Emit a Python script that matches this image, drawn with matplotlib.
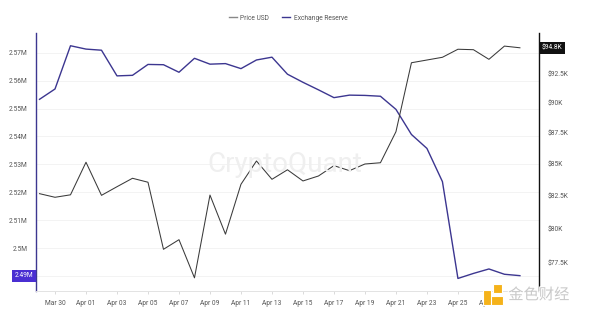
import matplotlib
matplotlib.use("Agg")
import matplotlib.pyplot as plt
import matplotlib.dates as mdates
import matplotlib.transforms as mtransforms
import matplotlib.patheffects as pe
from matplotlib.patches import Rectangle
from matplotlib.lines import Line2D
import numpy as np
import datetime as dt

# ---- data ----
start = dt.date(2025, 3, 29)
dates = [start + dt.timedelta(days=i) for i in range(32)]
reserve = [2.5533, 2.5570, 2.5725, 2.5713, 2.5709, 2.5617, 2.5619, 2.5658,
           2.5657, 2.5630, 2.5680, 2.5659, 2.5661, 2.5643, 2.5674, 2.5684,
           2.5623, 2.5594, 2.5567, 2.5539, 2.5548, 2.5547, 2.5544, 2.5497,
           2.5407, 2.5357, 2.5238, 2.4891, 2.4909, 2.4925, 2.4906, 2.4901]
price = [82.69, 82.41, 82.60, 85.16, 82.56, 83.23, 83.89, 83.58,
         78.49, 79.20, 76.42, 82.58, 79.61, 83.42, 85.26, 83.81,
         84.56, 83.68, 84.07, 84.89, 84.49, 85.02, 85.12, 87.63,
         93.48, 93.72, 93.96, 94.67, 94.63, 93.78, 94.95, 94.80]
left_ticks = [2.49, 2.50, 2.51, 2.52, 2.53, 2.54, 2.55, 2.56, 2.57]
right_ticks = [77.5, 80, 82.5, 85, 87.5, 90, 92.5]
legend_labels = ["Price USD", "Exchange Reserve"]

reserve_v = np.array(reserve) * 1e6
price_v = np.array(price) * 1e3

BLUE = "#3c3690"
PRICE_C = "#3a3a3a"
TICK_C = "#555555"
FONT = "Roboto"

fig = plt.figure(figsize=(6, 3.16), dpi=100)
ax = fig.add_axes([0.06, 0.079, 0.8383, 0.8165])
ax2 = ax.twinx()

ax.plot(dates, reserve_v, color=BLUE, lw=1.0, zorder=3)
ax2.plot(dates, price_v, color=PRICE_C, lw=0.75, zorder=3)

x0 = mdates.date2num(start)
ax.set_xlim(x0 - 0.226, x0 + 32.23)
ax.set_ylim(2.48459e6, 2.57706e6)
ax2.set_yscale("log")
ax2.set_ylim(75480, 96120)

# left axis (lowest label is shown by the highlighted box)
ax.set_yticks([v * 1e6 for v in left_ticks])
ax.set_yticklabels([""] + [("%g" % v) + "M" for v in left_ticks[1:]], fontsize=4.8,
                   color=TICK_C, family=FONT)
ax.tick_params(axis="y", length=0, pad=6)
ax.grid(axis="y", color="#f1f1f1", lw=0.6, zorder=0)

# right axis
ax2.yaxis.set_minor_locator(matplotlib.ticker.NullLocator())
ax2.set_yticks([v * 1e3 for v in right_ticks])
ax2.set_yticklabels([("$%g" % v) + "K" for v in right_ticks], fontsize=4.8,
                    color=TICK_C, family=FONT)
ax2.tick_params(axis="y", length=0, pad=6)

# x axis
xt = [dt.date(2025, 3, 30)] + [dt.date(2025, 4, d) for d in range(1, 28, 2)]
ax.set_xticks([mdates.date2num(d) for d in xt])
ax.set_xticklabels([d.strftime("%b %d") for d in xt], fontsize=4.8,
                   color=TICK_C, family=FONT)
ax.tick_params(axis="x", length=2.5, width=0.5, color="#cccccc", pad=4)

for a in (ax, ax2):
    a.spines["top"].set_visible(False)
    a.spines["bottom"].set_color("#e3e3e3")
    a.spines["bottom"].set_linewidth(0.6)
ax.spines["left"].set_color(BLUE)
ax.spines["left"].set_linewidth(1.0)
ax.spines["right"].set_visible(False)
ax2.spines["left"].set_visible(False)
ax2.spines["right"].set_color("#111111")
ax2.spines["right"].set_linewidth(1.0)

# highlighted last values
tl = mtransforms.blended_transform_factory(ax.transAxes, ax.transData)
ax.text(-0.006, reserve_v[-1], "2.49M", transform=tl, ha="right", va="center",
        fontsize=4.8, color="white", family=FONT, zorder=10, clip_on=False,
        bbox=dict(facecolor="#4a2fd2", edgecolor="none", pad=1.8))
tr = mtransforms.blended_transform_factory(ax2.transAxes, ax2.transData)
ax2.text(1.006, price_v[-1], "$94.8K", transform=tr, ha="left", va="center",
         fontsize=4.8, color="white", family=FONT, zorder=10, clip_on=False,
         bbox=dict(facecolor="#111111", edgecolor="none", pad=1.8))

# watermark
fig.text(0.475, 0.478, "CryptoQuant", fontsize=20, color="#efefef",
         family=FONT, ha="center", va="center", zorder=0)

# legend
handles = [Line2D([], [], color="#888888", lw=1.0),
           Line2D([], [], color=BLUE, lw=1.0)]
leg = fig.legend(handles, legend_labels, loc="center", bbox_to_anchor=(0.48, 0.943),
                 ncol=2, frameon=False, handlelength=1.2,
                 handletextpad=0.5, columnspacing=2.0, prop={"family": FONT, "size": 4.8})
for t in leg.get_texts():
    t.set_color("#555555")

# site watermark bottom right
W, H = 600.0, 316.0
def px_rect(x0p, y0p, x1p, y1p, color):
    fig.patches.append(Rectangle((x0p / W, 1 - y1p / H), (x1p - x0p) / W, (y1p - y0p) / H,
                                 transform=fig.transFigure, facecolor=color,
                                 edgecolor="white", linewidth=0.8, zorder=20))
px_rect(483, 296, 503, 305, "#f5b21a")
px_rect(483, 290, 491, 305, "#f5b21a")
px_rect(493, 284, 502, 293, "#f5b21a")
t = fig.text(0.898, 0.067, "金色财经", fontsize=11, color="#c9c9c9",
             family=["Noto Sans CJK SC", "DejaVu Sans"], ha="center", va="center", zorder=21)
t.set_path_effects([pe.withStroke(linewidth=1.5, foreground="white")])

fig.savefig("out.png", dpi=100, facecolor="white")
